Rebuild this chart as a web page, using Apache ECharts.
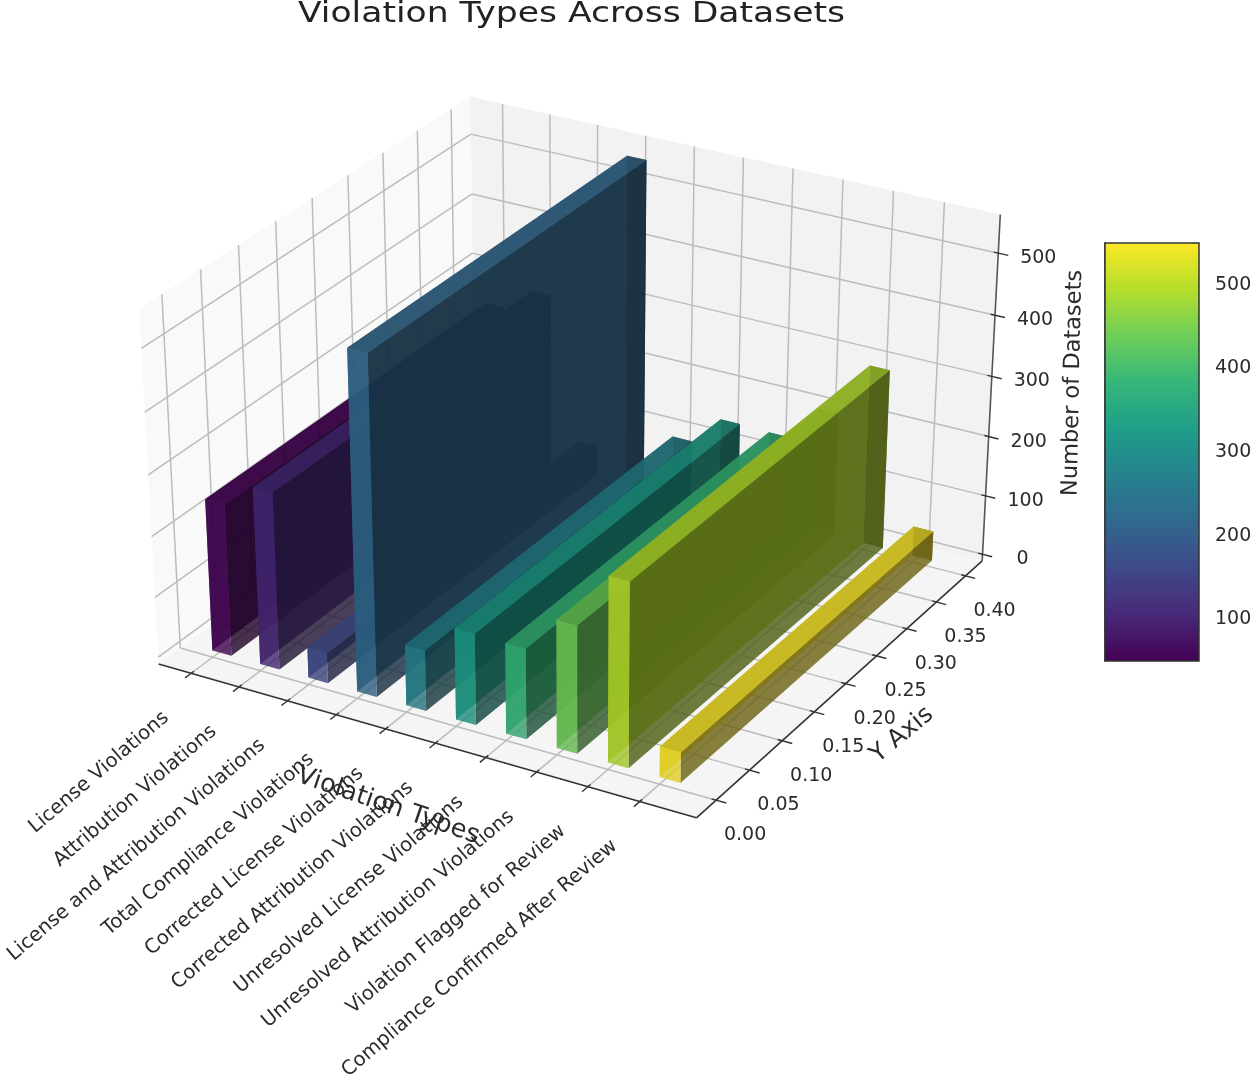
<!DOCTYPE html>
<html>
<head>
<meta charset="utf-8">
<script src="https://cdn.jsdelivr.net/npm/echarts@6/dist/echarts.min.js"></script>
<style>
  html, body { margin: 0; padding: 0; background: #fff; }
  #chart { width: 1256px; height: 1084px; }
  /* the reference is a soft upscaled raster */
  #chart canvas { filter: blur(0.5px); }
</style>
</head>
<body>
<div id="chart"></div>
<script>
// data
const categories = [
  'License Violations', 'Attribution Violations', 'License and Attribution Violations',
  'Total Compliance Violations', 'Corrected License Violations', 'Corrected Attribution Violations',
  'Unresolved License Violations', 'Unresolved Attribution Violations',
  'Violation Flagged for Review', 'Compliance Confirmed After Review'
];
const datasetCounts = [250, 290, 50, 550, 100, 150, 148, 208, 300, 50];
const barColors = ['#440154', '#482878', '#3e4989', '#31688e', '#26828e', '#1f9e89', '#35b779', '#6ece58', '#b5de2b', '#fde725'];
const yTicks = [0, 0.05, 0.1, 0.15, 0.2, 0.25, 0.3, 0.35, 0.4];
const zTicks = [0, 100, 200, 300, 400, 500];
const colorbarTicks = [100, 200, 300, 400, 500];
const viridisStops = ['#440154', '#482878', '#3e4989', '#31688e', '#26828e', '#1f9e89', '#35b779', '#6ece58', '#b5de2b', '#fde725'];

// 3d box limits and bar footprint
const xLim = [-0.685, 10.085];
const yLim = [-0.029, 0.429];
const zLim = [-11.5, 561.5];
const barDx = 0.4;
const barDy = 0.4;

// view: elev 30, azim -60, box aspect 4:4:3, camera distance 10
const HX = 0.5952, HY = 0.5952, HZ = 0.4464;
const U = [0.866, 0.5, 0];
const V = [-0.25, 0.433, 0.866];
const W = [0.433, -0.75, 0.5];
const CAM = 10;
// normalised view -> canvas pixels
const SX0 = 578, SXK = 5176, SY0 = 440, SYK = 4535;

const norm = (v, lim, h) => ((v - lim[0]) / (lim[1] - lim[0]) * 2 - 1) * h;
const dot = (a, b) => a[0] * b[0] + a[1] * b[1] + a[2] * b[2];

function project(x, y, z) {
  const p = [norm(x, xLim, HX), norm(y, yLim, HY), norm(z, zLim, HZ)];
  const d = CAM - dot(W, p);
  return {
    px: [SX0 + SXK * dot(U, p) / d, SY0 - SYK * dot(V, p) / d],
    depth: dot(W, p)
  };
}

function shade(hex, k) {
  const n = parseInt(hex.slice(1), 16);
  return 'rgb(' + [(n >> 16) & 255, (n >> 8) & 255, n & 255].map(c => Math.round(c * k)).join(',') + ')';
}

const poly = (api, pts, style) => ({
  type: 'polygon',
  shape: { points: pts.map(p => api.coord(project(p[0], p[1], p[2]).px)) },
  style: style
});
const seg = (api, a, b, stroke, width) => ({
  type: 'line',
  shape: (() => {
    const p = api.coord(project(a[0], a[1], a[2]).px);
    const q = api.coord(project(b[0], b[1], b[2]).px);
    return { x1: p[0], y1: p[1], x2: q[0], y2: q[1] };
  })(),
  style: { stroke: stroke, lineWidth: width, fill: null }
});
const label = (api, at, dx, dy, text, align, rot, size) => {
  const c = api.coord(project(at[0], at[1], at[2]).px);
  return {
    type: 'text', x: c[0] + dx, y: c[1] + dy, rotation: rot || 0,
    style: { text: text, fill: '#2b2b2b', font: size + 'px "DejaVu Sans"', align: align, verticalAlign: 'middle' }
  };
};

const xs = categories.map((c, i) => i);
const GRID = '#bcbcbc';

function renderPanes(params, api) {
  const [x0, x1] = xLim, [y0, y1] = yLim, [z0, z1] = zLim;
  const kids = [
    poly(api, [[x0, y0, z0], [x0, y1, z0], [x0, y1, z1], [x0, y0, z1]], { fill: '#f9f9f9' }),
    poly(api, [[x0, y1, z0], [x1, y1, z0], [x1, y1, z1], [x0, y1, z1]], { fill: '#f2f2f2' }),
    poly(api, [[x0, y0, z0], [x1, y0, z0], [x1, y1, z0], [x0, y1, z0]], { fill: '#f5f5f5' })
  ];
  xs.forEach(x => {
    kids.push(seg(api, [x, y0, z0], [x, y1, z0], GRID, 1.5));
    kids.push(seg(api, [x, y1, z0], [x, y1, z1], GRID, 1.5));
  });
  yTicks.forEach(y => {
    kids.push(seg(api, [x0, y, z0], [x1, y, z0], GRID, 1.5));
    kids.push(seg(api, [x0, y, z0], [x0, y, z1], GRID, 1.5));
  });
  zTicks.forEach(z => {
    kids.push(seg(api, [x0, y0, z], [x0, y1, z], GRID, 1.5));
    kids.push(seg(api, [x0, y1, z], [x1, y1, z], GRID, 1.5));
  });
  return { type: 'group', children: kids };
}

function renderAxes(params, api) {
  const [x0, x1] = xLim, [y0, y1] = yLim, [z0, z1] = zLim;
  const yr = y1 - y0, xr = x1 - x0;
  const kids = [
    seg(api, [x0, y0, z0], [x1, y0, z0], '#333', 1.6),
    seg(api, [x1, y0, z0], [x1, y1, z0], '#333', 1.6),
    seg(api, [x1, y1, z0], [x1, y1, z1], '#555', 1.6)
  ];
  xs.forEach(x => kids.push(seg(api, [x, y0 + yr * 0.008, z0], [x, y0 - yr * 0.018, z0], '#333', 1.4)));
  yTicks.forEach(y => kids.push(seg(api, [x1 - xr * 0.008, y, z0], [x1 + xr * 0.018, y, z0], '#333', 1.4)));
  zTicks.forEach(z => kids.push(seg(api, [x1 - xr * 0.008, y1, z], [x1 + xr * 0.018, y1, z], '#333', 1.4)));
  return { type: 'group', children: kids };
}

// the floor shows straight through the bars, so there is no bottom face here
const FACE_SHADE = { front: 0.883, left: 0.883, top: 0.767, right: 0.417, back: 0.417 };

function renderBar(params, api) {
  const i = api.value(0), h = api.value(1);
  const x0 = i, x1 = i + barDx, y0 = 0, y1 = barDy, z0 = 0, z1 = h;
  const faces = [
    ['top', [[x0, y0, z1], [x1, y0, z1], [x1, y1, z1], [x0, y1, z1]]],
    ['front', [[x0, y0, z0], [x1, y0, z0], [x1, y0, z1], [x0, y0, z1]]],
    ['back', [[x0, y1, z0], [x1, y1, z0], [x1, y1, z1], [x0, y1, z1]]],
    ['left', [[x0, y0, z0], [x0, y1, z0], [x0, y1, z1], [x0, y0, z1]]],
    ['right', [[x1, y0, z0], [x1, y1, z0], [x1, y1, z1], [x1, y0, z1]]]
  ];
  const meanDepth = f => f[1].reduce((s, p) => s + project(p[0], p[1], p[2]).depth, 0) / 4;
  faces.sort((a, b) => meanDepth(a) - meanDepth(b));
  return {
    type: 'group',
    children: faces.map(f => poly(api, f[1], {
      fill: shade(barColors[i], FACE_SHADE[f[0]]),
      opacity: 0.8
    }))
  };
}

function renderLabels(params, api) {
  const [x0, x1] = xLim, [y0, y1] = yLim, [z0] = zLim;
  const kids = [];
  categories.forEach((c, i) => kids.push(label(api, [i, y0, z0], -25, 42, c, 'right', 0.705, 19.7)));
  yTicks.forEach(y => kids.push(label(api, [x1, y, z0], 29, 35, y.toFixed(2), 'center', 0, 19)));
  zTicks.forEach(z => kids.push(label(api, [x1, y1, z], 40, 5, String(z), 'center', 0, 19)));
  const xName = api.coord([388, 806]), yName = api.coord([902, 735]), zName = api.coord([1073, 383]);
  [[xName, 'Violation Types', -0.33, 25.5], [yName, 'Y Axis', 0.69, 24.5], [zName, 'Number of Datasets', 1.55, 22.5]]
    .forEach(n => kids.push({
      type: 'text', x: n[0][0], y: n[0][1], rotation: n[2],
      style: { text: n[1], fill: '#2b2b2b', font: n[3] + 'px "DejaVu Sans"', align: 'center', verticalAlign: 'middle' }
    }));
  return { type: 'group', children: kids };
}

function renderColorbar(params, api) {
  const a = api.coord([0, 550]), b = api.coord([1, 50]);
  return {
    type: 'rect',
    shape: { x: a[0], y: a[1], width: b[0] - a[0], height: b[1] - a[1] },
    style: {
      fill: new echarts.graphic.LinearGradient(0, 1, 0, 0,
        viridisStops.map((c, i) => ({ offset: i / (viridisStops.length - 1), color: c }))),
      stroke: '#333', lineWidth: 1.5
    }
  };
}

const chart = echarts.init(document.getElementById('chart'));
chart.setOption({
  animation: false,
  backgroundColor: '#fff',
  graphic: [{
    type: 'text', x: 571.5, y: 15, scaleX: 1.257, z: 10,
    style: {
      text: 'Violation Types Across Datasets', fill: '#222',
      font: '27.5px "DejaVu Sans"', align: 'center', verticalAlign: 'middle'
    }
  }],
  grid: [
    { left: 0, top: 0, width: 1256, height: 1084 },
    { left: 1105, top: 243, width: 94, height: 418 }
  ],
  xAxis: [
    { gridIndex: 0, type: 'value', min: 0, max: 1256, show: false },
    { gridIndex: 1, type: 'value', min: 0, max: 1, show: false }
  ],
  yAxis: [
    { gridIndex: 0, type: 'value', min: 0, max: 1084, inverse: true, show: false },
    {
      gridIndex: 1, type: 'value', min: 50, max: 550, position: 'right',
      splitLine: { show: false },
      axisLine: { show: true, lineStyle: { color: '#333', width: 1.5 } },
      axisTick: { show: true, length: 8, customValues: colorbarTicks, lineStyle: { color: '#333', width: 1.5 } },
      axisLabel: { show: true, customValues: colorbarTicks, margin: 16, fontFamily: 'DejaVu Sans', fontSize: 19, color: '#2b2b2b' }
    }
  ],
  series: [
    { type: 'custom', xAxisIndex: 0, yAxisIndex: 0, silent: true, renderItem: renderPanes, data: [[0]], z: 1 },
    { type: 'custom', xAxisIndex: 0, yAxisIndex: 0, silent: true, renderItem: renderAxes, data: [[0]], z: 2 },
    { type: 'custom', xAxisIndex: 0, yAxisIndex: 0, silent: true, renderItem: renderBar, data: datasetCounts.map((v, i) => [i, v]), encode: { x: 0, y: 1 }, z: 3 },
    { type: 'custom', xAxisIndex: 0, yAxisIndex: 0, silent: true, renderItem: renderLabels, data: [[0]], z: 4 },
    { type: 'custom', xAxisIndex: 1, yAxisIndex: 1, silent: true, renderItem: renderColorbar, data: [[0]], z: 3 }
  ]
});
</script>
</body>
</html>
